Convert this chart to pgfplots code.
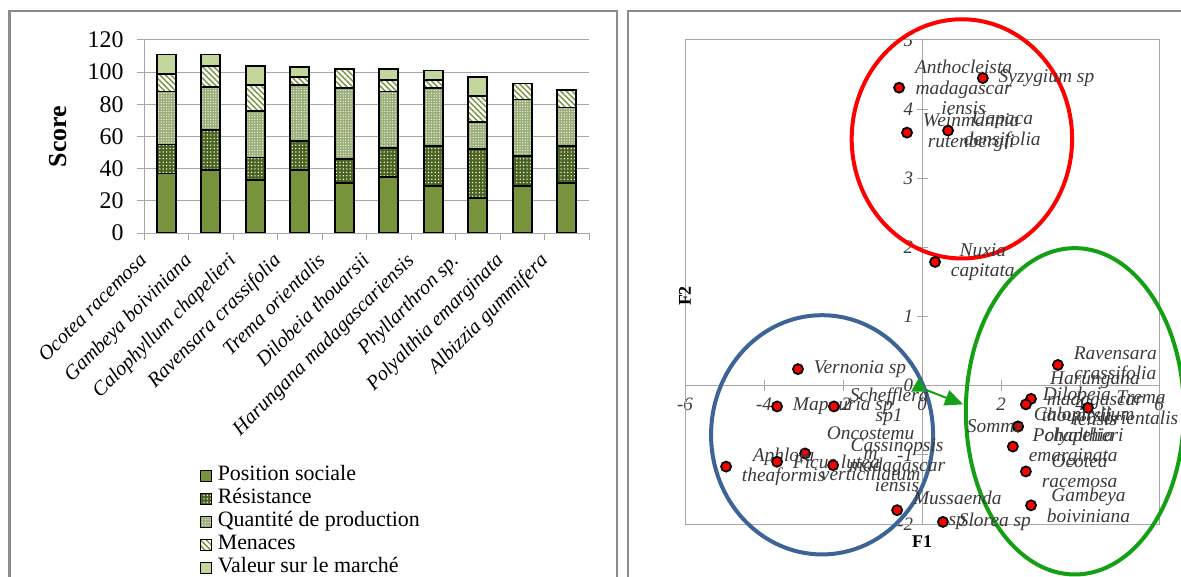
\documentclass[border=0pt]{standalone}
\usepackage{pgfplots}
\pgfplotsset{compat=1.18}
\usepackage{pgfplotstable}
\usepackage{fontspec}
\setmainfont{Liberation Serif}
\usetikzlibrary{patterns.meta,arrows.meta}

\definecolor{posc}{HTML}{77933C}
\definecolor{resc}{HTML}{4A6420}
\definecolor{quac}{HTML}{9AAE78}
\definecolor{menc}{HTML}{77933C}
\definecolor{valc}{HTML}{C3D69B}
\definecolor{framec}{HTML}{8C8C8C}
\definecolor{gridc}{HTML}{A6A6A6}
\definecolor{txtc}{HTML}{3A3A3A}
\definecolor{redell}{HTML}{FF0000}
\definecolor{blueell}{HTML}{3D6496}
\definecolor{greenell}{HTML}{14A014}

% scores per species: position sociale, resistance, quantite, menaces, valeur
\pgfplotstableread{
idx pos res qua men val
0 37 18 33 11 12
1 39 25 27 13 7
2 33 14 29 16 12
3 39 18 35 5 6
4 31 15 44 12 0
5 35 18 35 7 7
6 29 25 36 5 6
7 22 30 17 16 12
8 29 19 35 10 0
9 31 23 24 11 0
}\scores

\begin{document}
\begin{tikzpicture}
\useasboundingbox (0,0) rectangle (1181bp,577bp);
\clip (0,0) rectangle (1181bp,577bp);

% panel frames
\draw[framec, line width=2.5bp] (9.5bp,566bp) rectangle (617bp,-20bp);
\draw[framec, line width=2.5bp] (628bp,566bp) rectangle (1220bp,-20bp);

% ---------- stacked bar chart ----------
\begin{axis}[
  at={(144bp,344bp)}, anchor=south west,
  width=445bp, height=193bp, scale only axis,
  ybar stacked, bar width=19bp,
  xmin=-0.5, xmax=9.5, ymin=0, ymax=120,
  axis x line=bottom, axis y line=left,
  axis line style={gridc, line width=1bp, -},
  ytick={0,20,...,120},
  ymajorgrids, grid style={gridc, line width=1bp},
  xtick={0,...,9},
  minor xtick={-0.5,0.5,...,9.5},
  xticklabels={Ocotea racemosa, Gambeya boiviniana, Calophyllum chapelieri,
    Ravensara crassifolia, Trema orientalis, Dilobeia thouarsii,
    Harungana madagascariensis, Phyllarthron sp., Polyalthia emarginata,
    Albizzia gummifera},
  tick align=outside,
  major tick length=7bp, minor tick length=7bp,
  x tick style={draw=none},
  minor x tick style={draw=gridc, line width=1bp},
  y tick style={gridc, line width=1bp},
  /pgf/number format/assume math mode=true,
  yticklabel style={font=\fontsize{24}{26}\selectfont, xshift=-10bp},
  xticklabel style={font=\fontsize{20.5}{22}\selectfont\itshape, rotate=45,
    anchor=north east, inner sep=0pt, xshift=-28bp, yshift=12bp},
  ylabel={Score},
  ylabel style={font=\fontsize{26}{28}\selectfont\bfseries,
    at={(axis description cs:-0.193,0.5)}, anchor=center},
  every axis plot/.append style={draw=black, line width=1.8bp},
  legend image code/.code={\draw[#1, line width=1.2bp] (0bp,-6bp) rectangle (11bp,5bp);
    \path (16bp,0bp);},
  legend style={draw=none, fill=none, at={(0.126,-1.2)}, anchor=north west,
    font=\fontsize{22}{24}\selectfont, legend cell align=left,
    row sep=2bp, inner sep=0pt,
    nodes={inner sep=0pt, text height=16bp, text depth=5bp}},
  legend cell align=left,
]
\addplot[fill=posc] table[x=idx, y=pos] {\scores};
\addplot[fill=resc, postaction={pattern={Dots[radius=0.75bp,distance=3.4bp]}, pattern color=white}] table[x=idx, y=res] {\scores};
\addplot[fill=quac, postaction={pattern={Dots[radius=0.6bp,distance=2.6bp]}, pattern color=white}] table[x=idx, y=qua] {\scores};
\addplot[fill=white, postaction={pattern={Lines[angle=-45,distance=4bp,line width=1.4bp]}, pattern color=menc}] table[x=idx, y=men] {\scores};
\addplot[fill=valc] table[x=idx, y=val] {\scores};
\legend{Position sociale, Résistance, Quantité de production, Menaces, Valeur sur le marché}
\end{axis}

% ---------- factorial map F1 x F2 ----------
\begin{axis}[
  at={(685bp,53bp)}, anchor=south west,
  width=474bp, height=484bp, scale only axis,
  xmin=-6, xmax=6, ymin=-2, ymax=5,
  axis lines=middle,
  axis line style={gridc, line width=1bp, -},
  xtick={-6,-4,...,6}, ytick={-2,-1,...,5},
  tick align=center, major tick length=11bp,
  tick style={gridc, line width=1bp},
  hide obscured x ticks=false, hide obscured y ticks=false,
  /pgf/number format/assume math mode=true,
  ticklabel style={font=\fontsize{19}{20}\selectfont\itshape, text=txtc},
  xticklabel style={yshift=-3bp},
  clip=false,
  xlabel={F1}, ylabel={F2},
  xlabel style={at={(rel axis cs:0.5,0)}, anchor=center, yshift=-18bp,
    font=\fontsize{18}{20}\selectfont\bfseries},
  ylabel style={at={(rel axis cs:0,0.5)}, anchor=center, rotate=90, xshift=-14bp,
    font=\fontsize{18}{20}\selectfont\bfseries},
]
\draw[gridc, line width=1bp] (rel axis cs:0,0) rectangle (rel axis cs:1,1);

\addplot[only marks, mark=*, mark size=5bp,
  mark options={fill=red, draw=black, line width=1.8bp},
  point meta=explicit symbolic, nodes near coords,
  nodes near coords style={anchor=west, align=center, inner sep=0pt, xshift=15bp,
    font=\fontsize{19.5}{20.5}\selectfont\itshape, text=txtc},
] coordinates {
  (-0.58, 4.31) [Anthocleista\\madagascar\\iensis]
  (1.54, 4.45) [Syzygium sp]
  (-0.38, 3.66) [Weinmannia\\rutenbergii]
  (0.66, 3.69) [Uapaca\\densifolia]
  (0.33, 1.79) [Nuxia\\capitata]
  (-3.14, 0.24) [Vernonia sp]
  (-3.67, -0.30) [Mapouria sp]
  (-2.23, -0.30) [Schefflera\\sp1]
  (-2.96, -0.98) [Oncostemu\\m\\verticillatum]
  (-4.96, -1.17) [Aphloia\\theaformis]
  (-3.67, -1.10) [Ficus lutea]
  (-2.25, -1.15) [Cassinopsis\\madagascar\\iensis]
  (-0.63, -1.80) [Mussaenda\\sp]
  (0.53, -1.97) [Slorea sp]
  (3.44, 0.30) [Ravensara\\crassifolia]
  (2.76, -0.19) [Harungana\\madagascar\\iensis]
  (2.63, -0.27) [Dilobeia\\thouarsii]
  (4.20, -0.32) [Trema\\orientalis]
  (2.43, -0.59) [Calophyllum\\chapelieri]
  (2.30, -0.88) [Polyalthia\\emarginata]
  (2.63, -1.24) [Ocotea\\racemosa]
  (2.76, -1.73) [Gambeya\\boiviniana]
};
\addplot[only marks, mark=*, mark size=5bp,
  mark options={fill=red, draw=black, line width=1.8bp},
  point meta=explicit symbolic, nodes near coords,
  nodes near coords style={anchor=east, inner sep=0pt, xshift=6bp,
    font=\fontsize{19.5}{20.5}\selectfont\itshape, text=txtc},
] coordinates {
  (2.43, -0.59) [Somme]
};

% supplementary variable
\addplot[greenell, line width=2bp, -{Triangle[length=18bp,width=16bp]},
  mark=triangle*, mark size=7bp, mark indices={1},
  mark options={solid, fill=greenell, draw=greenell}]
  coordinates {(-0.08,-0.02) (1.04,-0.27)};

% groups
\draw[redell, line width=4bp] (axis cs:1.01,3.57) ellipse [x radius=2.79, y radius=1.73];
\draw[blueell, line width=4bp] (axis cs:-2.53,-0.71) ellipse [x radius=2.81, y radius=1.73];
\draw[greenell, line width=4bp] (axis cs:3.87,-0.37) ellipse [x radius=2.76, y radius=2.36];
\end{axis}
\end{tikzpicture}
\end{document}
